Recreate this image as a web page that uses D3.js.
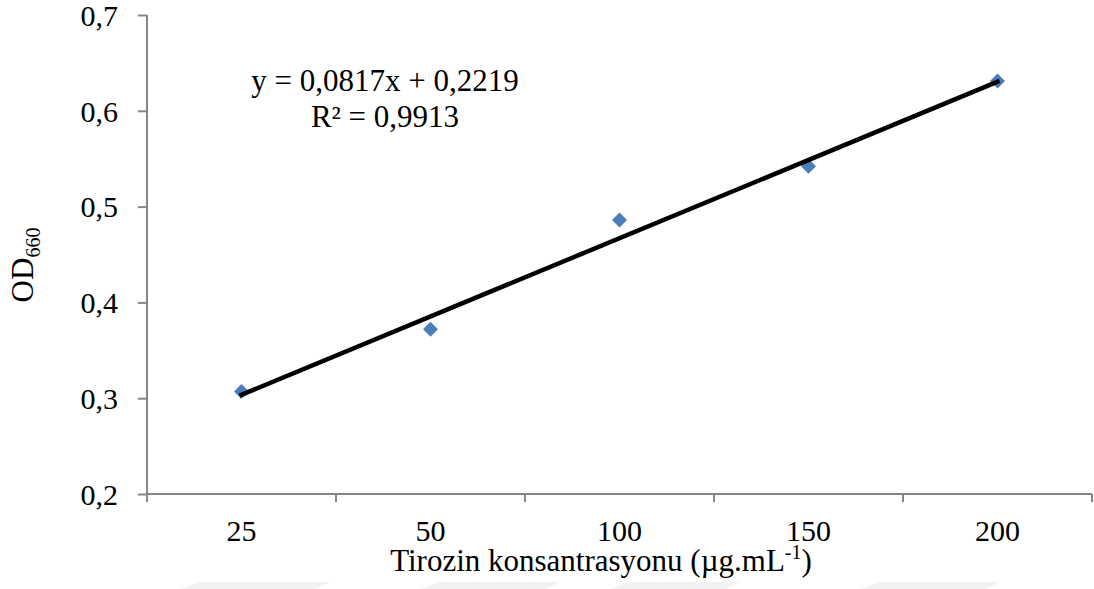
<!DOCTYPE html>
<html>
<head>
<meta charset="utf-8">
<script src="https://cdn.jsdelivr.net/npm/d3@7/dist/d3.min.js"></script>
<style>
  html, body { margin: 0; padding: 0; background: #fff; }
  svg { display: block; }
  svg text { font-family: "Liberation Serif", "Times New Roman", serif; fill: #000; }
</style>
</head>
<body>
<svg id="chart" width="1094" height="589"></svg>
<script>
// Tyrosine standard curve: concentration categories and measured OD660
const concentrations = ["25", "50", "100", "150", "200"];
const odValues = [0.307, 0.372, 0.486, 0.542, 0.631];
const yTicks = [0.2, 0.3, 0.4, 0.5, 0.6, 0.7];
// Linear trendline fitted against category index (1..n)
const slope = 0.0817;
const intercept = 0.2219;
const equationLines = ["y = 0,0817x + 0,2219", "R\u00B2 = 0,9913"];

const svg = d3.select("#chart");
const plot = { left: 147, right: 1092, top: 15, bottom: 494 };
const axisColor = "#868686";
const fontSize = "30px";

const x = d3.scaleBand().domain(concentrations).range([plot.left, plot.right]);
const y = d3.scaleLinear().domain([0.2, 0.7]).range([plot.bottom, plot.top]);
const fmt = d => d3.format(".1f")(d).replace(".", ",");

// Y axis
const yAxis = svg.append("g")
  .attr("transform", `translate(${plot.left},0)`)
  .call(d3.axisLeft(y).tickValues(yTicks).tickSize(9).tickPadding(20).tickFormat(fmt));
yAxis.attr("font-family", null).attr("font-size", null);
yAxis.select(".domain").attr("stroke", axisColor).attr("stroke-width", 2)
  .attr("d", `M0,${plot.top}V${plot.bottom + 8}`);
yAxis.selectAll(".tick line").attr("stroke", axisColor).attr("stroke-width", 2);
yAxis.selectAll(".tick text").attr("fill", "#000").attr("dy", "0.34em").style("font-size", fontSize);

// X axis: labels centered in bands, tick marks on band boundaries
const xAxis = svg.append("g").attr("transform", `translate(0,${plot.bottom})`);
xAxis.append("line").attr("x1", plot.left).attr("x2", plot.right).attr("y1", 0).attr("y2", 0)
  .attr("stroke", axisColor).attr("stroke-width", 2);
const boundaries = concentrations.map(c => x(c) + x.bandwidth()).slice(0, -1).concat([plot.right]);
xAxis.selectAll("line.tk").data(boundaries).enter().append("line")
  .attr("class", "tk")
  .attr("x1", d => d).attr("x2", d => d).attr("y1", 0).attr("y2", 8)
  .attr("stroke", axisColor).attr("stroke-width", 2);
xAxis.selectAll("text").data(concentrations).enter().append("text")
  .attr("x", d => x(d) + x.bandwidth() / 2)
  .attr("y", 47)
  .attr("text-anchor", "middle")
  .style("font-size", fontSize)
  .text(d => d);

// Axis titles
const xt = svg.append("text")
  .attr("x", 601).attr("y", 571)
  .attr("text-anchor", "middle")
  .style("font-size", "31px");
xt.append("tspan").text("Tirozin konsantrasyonu (\u00B5g.mL");
xt.append("tspan").attr("dy", -12).style("font-size", "20px").text("-1");
xt.append("tspan").attr("dy", 12).text(")");

const yt = svg.append("text")
  .attr("transform", "translate(33,265) rotate(-90)")
  .attr("text-anchor", "middle")
  .style("font-size", "31px");
yt.append("tspan").text("OD");
yt.append("tspan").attr("dy", 7).style("font-size", "20px").text("660");

// Data markers (diamonds)
const cx = c => x(c) + x.bandwidth() / 2;
svg.append("g").selectAll("path").data(concentrations).enter().append("path")
  .attr("transform", (c, i) => `translate(${cx(c)},${y(odValues[i])})`)
  .attr("d", "M0,-7.5L7.5,0L0,7.5L-7.5,0Z")
  .attr("fill", "#4a7ebb");

// Trendline
const first = concentrations[0], last = concentrations[concentrations.length - 1];
svg.append("line")
  .attr("x1", cx(first)).attr("y1", y(slope * 1 + intercept))
  .attr("x2", cx(last)).attr("y2", y(slope * concentrations.length + intercept))
  .attr("stroke", "#000").attr("stroke-width", 4.5).attr("stroke-linecap", "square");

// Equation label
svg.append("g").selectAll("text").data(equationLines).enter().append("text")
  .attr("x", 385).attr("y", (d, i) => 91 + i * 36)
  .attr("text-anchor", "middle")
  .style("font-size", "31px")
  .text(d => d);

// Faint decorative band at the bottom edge
const marks = [[180, 330], [420, 560], [610, 740], [860, 1000]];
svg.append("g").selectAll("path").data(marks).enter().append("path")
  .attr("d", d => `M${d[0] + 20},582L${d[1]},582L${d[1] - 15},589L${d[0]},589Z`)
  .attr("fill", "#f2f2f2");
</script>
</body>
</html>
